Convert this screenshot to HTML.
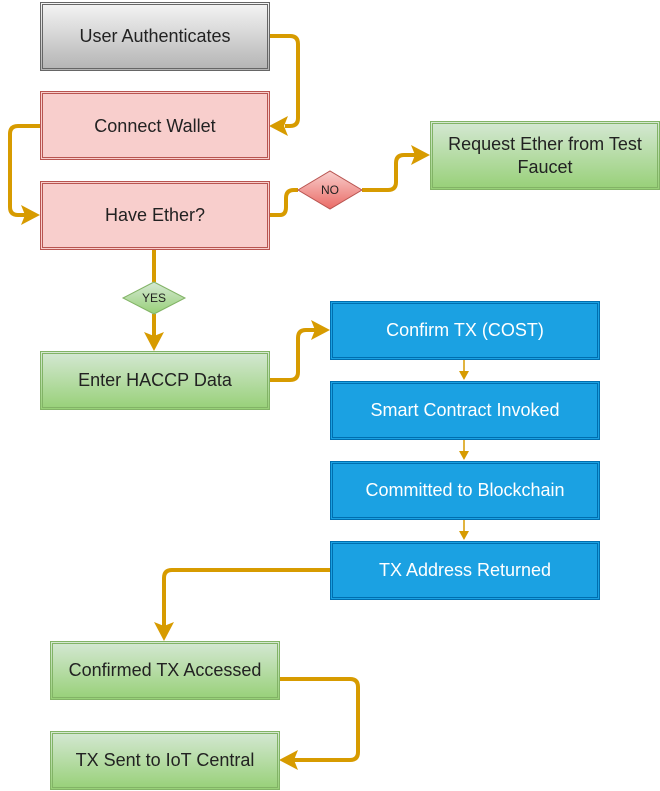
<!DOCTYPE html>
<html><head><style>body{margin:0;background:#fff}svg{display:block}text{font-family:"Liberation Sans",sans-serif;font-size:18px;text-anchor:middle;dominant-baseline:central}</style></head><body>
<svg width="660" height="791" viewBox="0 0 660 791">
<defs>
<linearGradient id="g" x1="0" y1="0" x2="0" y2="1"><stop offset="0" stop-color="#f5f5f5"/><stop offset="1" stop-color="#b3b3b3"/></linearGradient>
<linearGradient id="gr" x1="0" y1="0" x2="0" y2="1"><stop offset="0" stop-color="#d5e8d4"/><stop offset="1" stop-color="#97d077"/></linearGradient>
<linearGradient id="rd" x1="0" y1="0" x2="0" y2="1"><stop offset="0" stop-color="#f8cecc"/><stop offset="1" stop-color="#ea6b66"/></linearGradient>
</defs>
<g fill="none" stroke="#d79b00" stroke-width="4" stroke-linejoin="round">
<path d="M269 36 H290 Q298 36 298 44 V118 Q298 126 290 126 H285"/>
<path d="M40 126 H18 Q10 126 10 134 V207 Q10 215 18 215 H25"/>
<path d="M269 215 H280 Q286 215 286 207 V198 Q286 190 294 190 H298"/>
<path d="M362 190 H388 Q396 190 396 182 V163 Q396 155 404 155 H415"/>
<path d="M154 249 V282"/>
<path d="M154 314 V336"/>
<path d="M269 380 H290 Q298 380 298 372 V338 Q298 330 306 330 H315"/>
<path d="M330 570 H172 Q164 570 164 578 V626"/>
<path d="M279 679 H350 Q358 679 358 687 V752 Q358 760 350 760 H294"/>
</g>
<g fill="#d79b00">
<path d="M269 126 L288 116 L284 126 L288 136Z"/>
<path d="M40 215 L21 205 L25 215 L21 225Z"/>
<path d="M430 155 L411 145 L415 155 L411 165Z"/>
<path d="M154 351 L144 332 L154 336 L164 332Z"/>
<path d="M330 330 L311 320 L315 330 L311 340Z"/>
<path d="M164 641 L154 622 L164 626 L174 622Z"/>
<path d="M279 760 L298 750 L294 760 L298 770Z"/>
</g>
<g stroke="#d79b00" stroke-width="1.5" fill="#d79b00">
<path d="M464 359V372"/><path d="M459 371L464 380L469 371Z" stroke="none"/>
<path d="M464 439V452"/><path d="M459 451L464 460L469 451Z" stroke="none"/>
<path d="M464 519V532"/><path d="M459 531L464 540L469 531Z" stroke="none"/>
</g>
<rect x="40.5" y="2.5" width="229" height="68" fill="url(#g)" stroke="#666"/>
<rect x="42.5" y="4.5" width="225" height="64" fill="none" stroke="#666"/>
<text x="155" y="36" fill="#222">User Authenticates</text>
<g fill="#f8cecc" stroke="#b85450">
<rect x="40.5" y="91.5" width="229" height="68"/>
<rect x="40.5" y="181.5" width="229" height="68"/>
</g>
<g fill="none" stroke="#b85450">
<rect x="42.5" y="93.5" width="225" height="64"/>
<rect x="42.5" y="183.5" width="225" height="64"/>
</g>
<text x="155" y="126" fill="#222">Connect Wallet</text>
<text x="155" y="215" fill="#222">Have Ether?</text>
<g fill="url(#gr)" stroke="#82b366">
<rect x="430.5" y="121.5" width="229" height="68"/>
<rect x="40.5" y="351.5" width="229" height="58"/>
<rect x="50.5" y="641.5" width="229" height="58"/>
<rect x="50.5" y="731.5" width="229" height="58"/>
</g>
<g fill="none" stroke="#82b366">
<rect x="432.5" y="123.5" width="225" height="64"/>
<rect x="42.5" y="353.5" width="225" height="54"/>
<rect x="52.5" y="643.5" width="225" height="54"/>
<rect x="52.5" y="733.5" width="225" height="54"/>
</g>
<text x="545" y="144" fill="#222">Request Ether from Test</text>
<text x="545" y="167" fill="#222">Faucet</text>
<text x="155" y="380" fill="#222">Enter HACCP Data</text>
<text x="165" y="670" fill="#222">Confirmed TX Accessed</text>
<text x="165" y="760" fill="#222">TX Sent to IoT Central</text>
<g fill="#1ba1e2" stroke="#006eaf">
<rect x="330.5" y="301.5" width="269" height="58"/>
<rect x="330.5" y="381.5" width="269" height="58"/>
<rect x="330.5" y="461.5" width="269" height="58"/>
<rect x="330.5" y="541.5" width="269" height="58"/>
</g>
<g fill="none" stroke="#006eaf">
<rect x="332.5" y="303.5" width="265" height="54"/>
<rect x="332.5" y="383.5" width="265" height="54"/>
<rect x="332.5" y="463.5" width="265" height="54"/>
<rect x="332.5" y="543.5" width="265" height="54"/>
</g>
<g fill="#fff">
<text x="465" y="330">Confirm TX (COST)</text>
<text x="465" y="410">Smart Contract Invoked</text>
<text x="465" y="490">Committed to Blockchain</text>
<text x="465" y="570">TX Address Returned</text>
</g>
<path d="M298 190 L330 171 L362 190 L330 209Z" fill="url(#rd)" stroke="#b85450"/>
<text x="330" y="190" style="font-size:12px" fill="#222">NO</text>
<path d="M123 298 L154 282 L185 298 L154 314Z" fill="url(#gr)" stroke="#82b366"/>
<text x="154" y="298" style="font-size:12px" fill="#222">YES</text>
</svg>
</body></html>
